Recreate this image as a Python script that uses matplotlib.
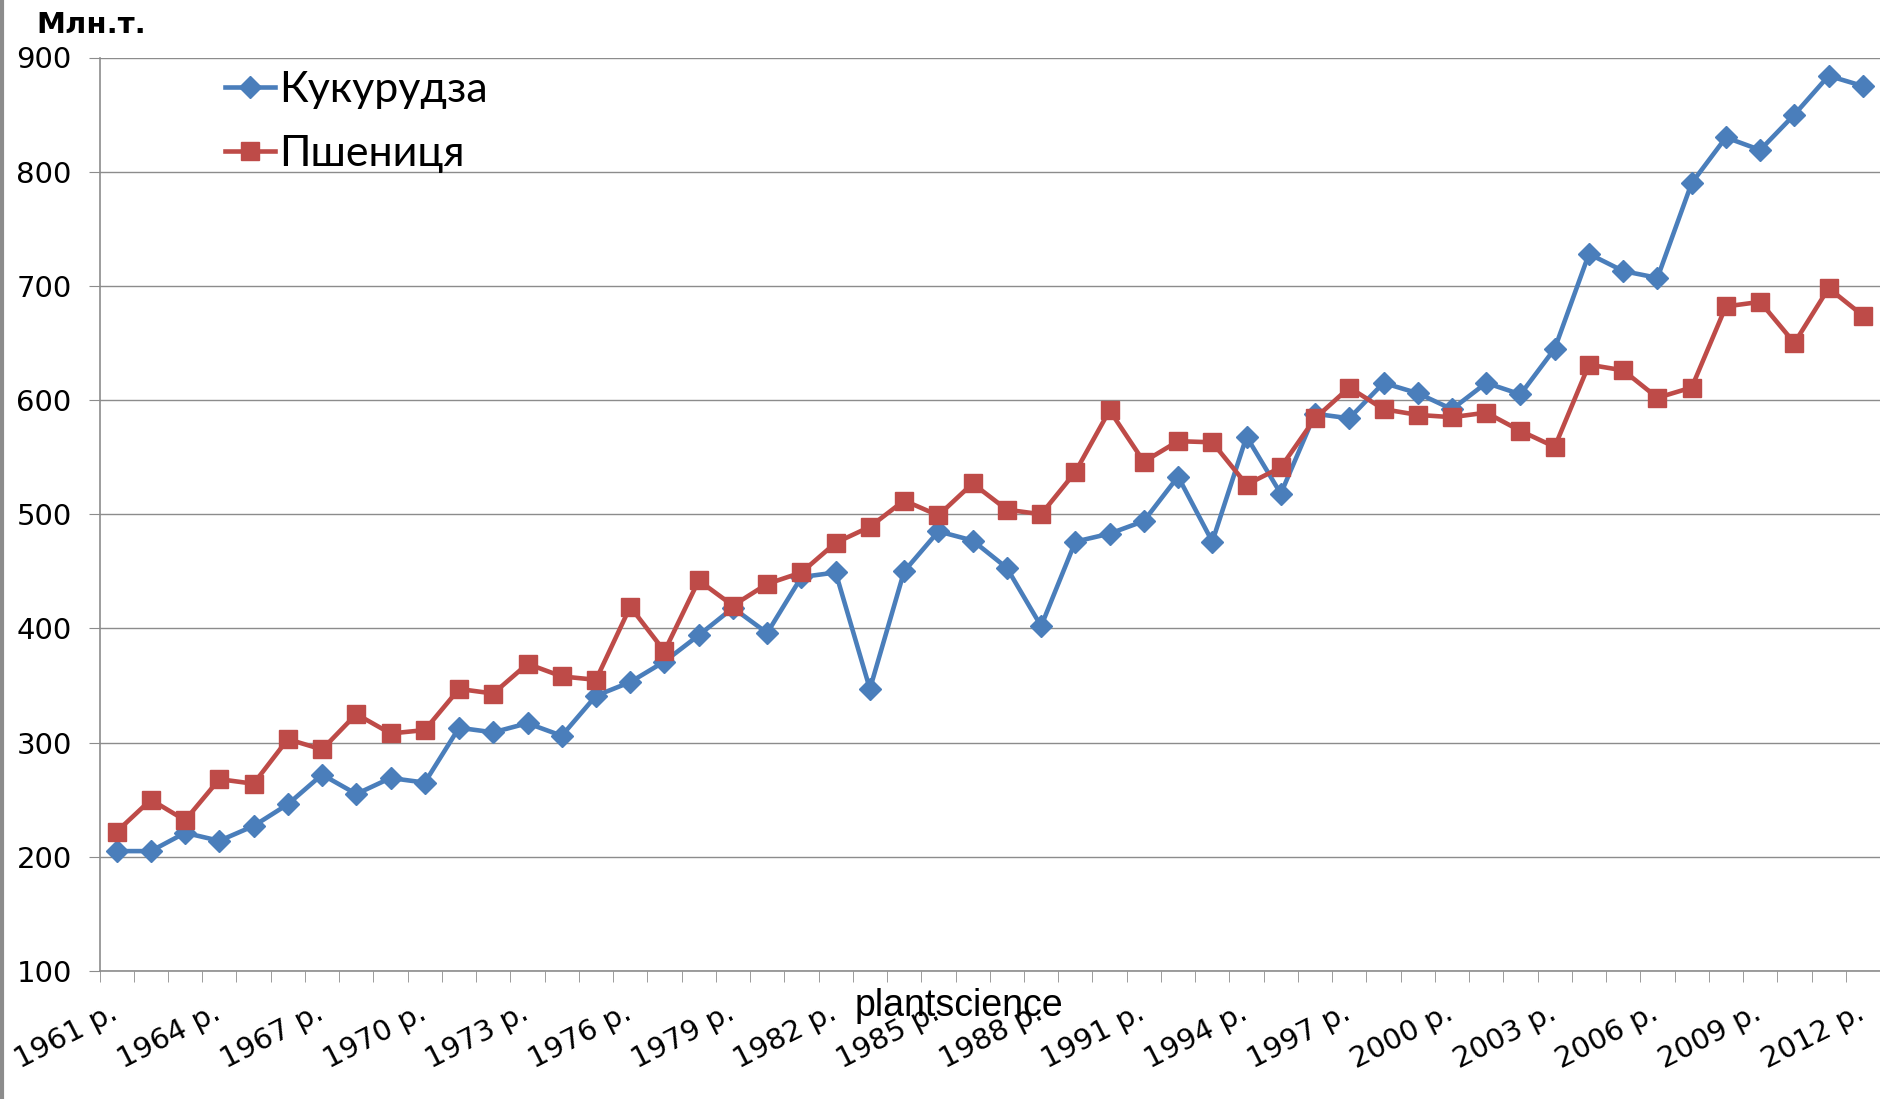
import numpy as np
import matplotlib.pyplot as plt
from matplotlib.lines import Line2D
from matplotlib.transforms import ScaledTranslation

# Years and production (mln t)
years = list(range(1961, 2013))
corn = [205, 205, 221, 214, 227, 246, 272, 255, 269, 265,
        313, 309, 317, 306, 341, 353, 371, 394, 418, 396,
        445, 449, 347, 450, 485, 477, 453, 402, 476, 483,
        494, 533, 476, 568, 518, 588, 584, 615, 606, 592,
        615, 605, 645, 728, 713, 707, 790, 830, 819, 850,
        884, 875]
wheat = [222, 250, 232, 268, 264, 303, 294, 325, 308, 311,
         347, 343, 369, 358, 355, 419, 380, 442, 420, 439,
         449, 475, 489, 512, 499, 527, 504, 500, 537, 591,
         546, 564, 563, 526, 541, 584, 611, 592, 587, 585,
         589, 573, 559, 631, 626, 602, 611, 682, 686, 650,
         698, 674]
tick_years = years[::3]
yticks = [100, 200, 300, 400, 500, 600, 700, 800, 900]

blue = '#4A7EBB'
red = '#BE4B48'

fig = plt.figure(figsize=(18.8, 10.99), dpi=100)
ax = fig.add_axes([99.5 / 1880, 1 - 971 / 1099, 1 - 99.5 / 1880, (971 - 57.5) / 1099])

x = np.arange(len(years))
ax.plot(x, corn, color=blue, lw=3.3, marker='D', ms=11, mec=blue, mfc=blue, clip_on=False, zorder=3)
ax.plot(x, wheat, color=red, lw=3.3, marker='s', ms=13, mec=red, mfc=red, clip_on=False, zorder=3)

ax.set_xlim(-0.5, len(years) - 0.5)
ax.set_ylim(100, 900)
ax.set_yticks(yticks)
ax.set_yticklabels([str(v) for v in yticks], fontsize=21, family='DejaVu Sans')
ax.grid(axis='y', color='#8c8c8c', lw=1)
ax.set_axisbelow(True)

for s in ['top', 'right']:
    ax.spines[s].set_visible(False)
for s in ['left', 'bottom']:
    ax.spines[s].set_color('#8c8c8c')
    ax.spines[s].set_linewidth(1.2)
ax.tick_params(axis='y', length=8, color='#8c8c8c', pad=12)

# category boundary tick marks, labels every 3 years
ax.set_xticks(np.arange(-0.5, len(years), 1), minor=True)
ax.tick_params(axis='x', which='minor', length=8, color='#8c8c8c')
ax.set_xticks([years.index(y) for y in tick_years])
ax.set_xticklabels([f'{y} р.' for y in tick_years], rotation=27, ha='right',
                   rotation_mode='anchor', fontsize=21, family='DejaVu Sans')
ax.tick_params(axis='x', which='major', length=0, pad=20)
shift = ScaledTranslation(-7 / 100, 0, fig.dpi_scale_trans)
for lbl in ax.get_xticklabels():
    lbl.set_transform(lbl.get_transform() + shift)

handles = [Line2D([], [], color=blue, lw=3.3, marker='D', ms=11),
           Line2D([], [], color=red, lw=3.3, marker='s', ms=13)]
leg = ax.legend(handles, ['Кукурудза', 'Пшениця'], loc='upper left', bbox_to_anchor=(0.049, 1.028),
                frameon=False, prop={'family': 'Lato', 'size': 31}, handlelength=1.15,
                handletextpad=0.1, labelspacing=0.62)

fig.text(36 / 1880, 1 - 25 / 1099, 'Млн.т.', fontsize=21, fontweight='bold', family='DejaVu Sans', va='center')
fig.text(959 / 1880, 1 - 1006 / 1099, 'plantscience', fontsize=27, family='Liberation Sans', ha='center', va='center')

# thin gray frame line at the left edge
fig.add_artist(Line2D([0.001, 0.001], [0, 1], color='#8c8c8c', lw=3, transform=fig.transFigure))

fig.savefig('out.png', dpi=100)
